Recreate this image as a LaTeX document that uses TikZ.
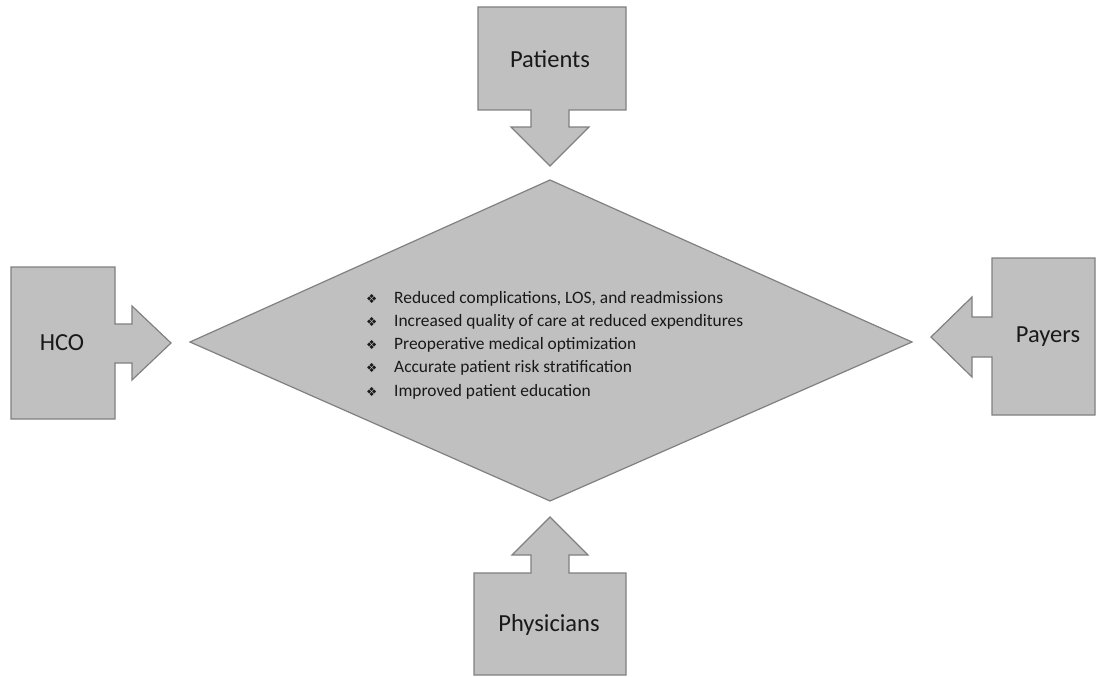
\documentclass[tikz,border=0pt]{standalone}
\usepackage{fontspec}
\setmainfont{Carlito}
\newfontfamily\symfont{DejaVu Sans}
\definecolor{boxfill}{RGB}{192,192,192}
\definecolor{boxline}{RGB}{128,128,128}
\definecolor{inktext}{RGB}{25,25,25}
\newcommand{\itemmark}{\makebox[28pt][l]{\symfont\fontsize{12.5}{12}\selectfont ❖}}

\begin{document}
\begin{tikzpicture}[x=1pt, y=-1pt,
    calloutshape/.style={draw=boxline, fill=boxfill, line width=1.2pt, line join=miter},
    actor/.style={font=\fontsize{24.5}{28}\selectfont, text=inktext, inner sep=0pt},
    benefit/.style={font=\fontsize{17.4}{23.3}\selectfont, text=inktext,
                    align=left, inner sep=0pt}
]
  \useasboundingbox (0,0) rectangle (1096,677);

  % Central diamond
  \draw[calloutshape] (190,342) -- (550,180) -- (912,342) -- (550,501) -- cycle;

  % Patients (top, pointing down)
  \draw[calloutshape] (478,7) -- (626,7) -- (626,110) -- (569,110) -- (569,127)
    -- (589,127) -- (550,166) -- (511,127) -- (531,127) -- (531,110)
    -- (478,110) -- cycle;
  \node[actor] (patients) at (550,59) {Patients};

  % HCO (left, pointing right)
  \draw[calloutshape] (11,267) -- (115,267) -- (115,324) -- (132,324) -- (132,306)
    -- (171,343) -- (132,380) -- (132,363) -- (115,363) -- (115,419)
    -- (11,419) -- cycle;
  \node[actor] (hco) at (62,343) {HCO};

  % Payers (right, pointing left)
  \draw[calloutshape] (1095,258) -- (992,258) -- (992,317) -- (972,317) -- (972,297)
    -- (931,337) -- (972,377) -- (972,357) -- (992,357) -- (992,415)
    -- (1095,415) -- cycle;
  \node[actor] (payers) at (1048,337) {Payers};

  % Physicians (bottom, pointing up)
  \draw[calloutshape] (474,675) -- (474,573) -- (531,573) -- (531,555) -- (512,555)
    -- (550,517) -- (588,555) -- (569,555) -- (569,573) -- (626,573)
    -- (626,675) -- cycle;
  \node[actor] (physicians) at (549,625) {Physicians};

  % Benefits list
  \node[benefit, anchor=west] (benefits) at (366,345) {%
    \itemmark Reduced complications, LOS, and readmissions\\
    \itemmark Increased quality of care at reduced expenditures\\
    \itemmark Preoperative medical optimization\\
    \itemmark Accurate patient risk stratification\\
    \itemmark Improved patient education};
\end{tikzpicture}
\end{document}
